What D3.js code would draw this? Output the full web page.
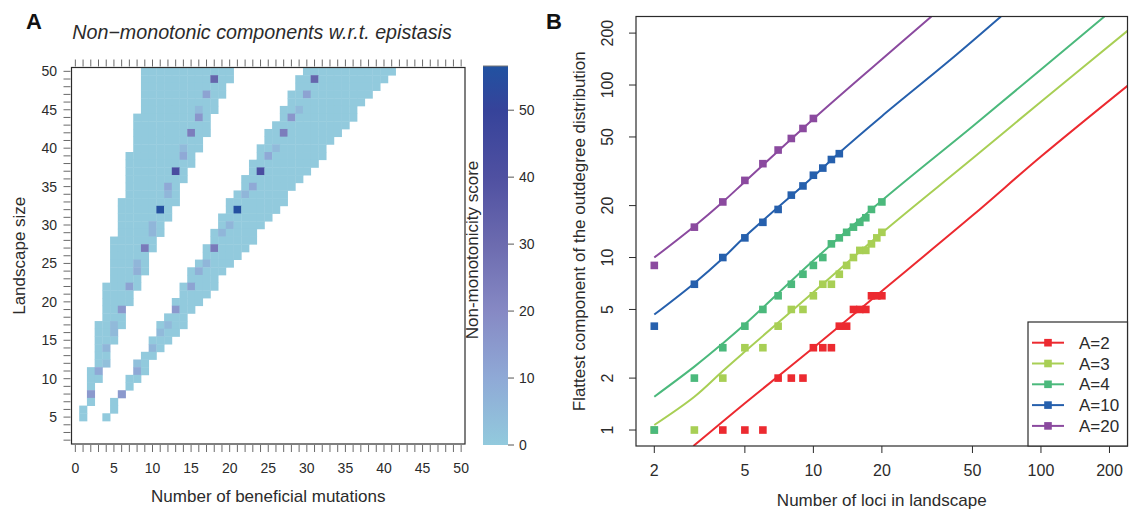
<!DOCTYPE html>
<html>
<head>
<meta charset="utf-8">
<script src="https://cdn.jsdelivr.net/npm/d3@7"></script>
<style>
  body { margin: 0; background: #fff; }
  svg { display: block; font-family: "Liberation Sans", Arial, Helvetica, sans-serif; }
</style>
</head>
<body>
<svg id="fig" width="1129" height="513"></svg>
<script>
// ---------- Panel A: band extents per landscape size ----------
const landscapeSizes = [50,49,48,47,46,45,44,43,42,41,40,39,38,37,36,35,34,33,32,31,30,29,28,27,26,25,24,23,22,21,20,19,18,17,16,15,14,13,12,11,10,9,8,7,6,5];
const lowBandStart  = [9,9,9,9,9,9,8,8,8,8,8,7,7,7,7,7,7,6,6,6,6,6,5,5,5,5,5,5,4,4,4,4,4,3,3,3,3,3,3,2,2,2,2,2,1,1];
const lowBandEnd    = [20,20,19,19,18,18,17,17,17,16,16,15,15,14,14,13,13,13,12,12,11,11,10,10,9,9,9,8,8,7,7,6,6,6,5,5,4,4,4,3,3,2,2,2,1,1];
const highBandStart = [30,29,29,28,28,27,27,26,25,25,24,24,23,23,22,22,21,20,20,19,19,18,18,17,17,16,15,15,14,14,13,13,12,11,11,10,10,9,8,8,7,7,6,5,5,4];
const highBandEnd   = [41,40,39,38,37,36,36,35,34,33,32,32,31,30,29,28,27,27,26,25,24,23,23,22,21,20,19,18,18,17,16,15,14,14,13,12,11,10,9,9,8,7,6,5,5,4];

// cells with a non-zero non-monotonicity score: [landscape size, mutations, score]
const scoredCells = [
  [49,18,32],[47,17,12],[45,16,5],[44,16,16],[42,15,24],[40,14,5],[39,14,10],[37,13,42],
  [35,12,10],[34,12,6],[32,11,56],[30,10,6],[29,10,6],[27,9,25],[25,8,6],[24,8,8],
  [22,7,12],[19,6,15],[17,5,5],[16,5,5],[14,4,6],[12,4,3],[11,3,10],[8,2,15],
  [49,31,32],[47,30,12],[45,29,5],[44,28,16],[42,27,24],[40,26,5],[39,25,10],[37,24,42],
  [35,23,10],[34,22,6],[32,21,56],[30,20,6],[29,19,6],[27,18,25],[25,17,6],[24,16,8],
  [22,15,12],[19,13,15],[17,12,5],[16,11,5],[14,10,6],[12,8,3],[11,8,10],[8,6,15]
];
const scoreStops  = [0, 10, 20, 30, 40, 50, 57];
const scoreColors = ["#92cadd", "#8fa9d6", "#8689c4", "#6c6baf", "#4f50a1", "#36439a", "#2152a1"];
const scoreTicks  = [0, 10, 20, 30, 40, 50];
const mutationTicks = [0,5,10,15,20,25,30,35,40,45,50];
const sizeTicks = [5,10,15,20,25,30,35,40,45,50];

// ---------- Panel B: flattest outdegree component ----------
const lociCounts = [2,3,4,5,6,7,8,9,10,11,12,13,14,15,16,17,18,19,20];
const seriesNames  = ["A=2", "A=3", "A=4", "A=10", "A=20"];
const seriesColors = ["#ec2a30", "#a8cf55", "#4bb97c", "#2660ad", "#8b4a9f"];
const flatA2  = [null,null,1,1,1,2,2,2,3,3,3,4,4,5,5,5,6,6,6];
const flatA3  = [1,1,2,3,3,4,5,5,6,7,7,8,9,10,11,11,12,13,14];
const flatA4  = [1,2,3,4,5,6,7,8,9,10,12,13,14,15,16,17,19,null,21];
const flatA10 = [4,7,10,13,16,19,23,26,30,33,37,40];
const flatA20 = [9,15,21,28,35,42,49,56,64];
// fitted curves: loci count and predicted component size
const fitLociA2  = [2.97, 4, 5, 10, 20, 50, 100, 240];
const fitFlatA2  = [0.808, 1.12, 1.43, 3.0, 6.4, 17.5, 38.5, 99];
const fitLociA3  = [2, 3, 4, 5, 10, 20, 50, 100, 240];
const fitFlatA3  = [1.07, 1.56, 2.2, 2.85, 6.3, 13.9, 37.5, 80, 206];
const fitLociA4  = [2, 3, 4, 5, 10, 20, 50, 100, 190];
const fitFlatA4  = [1.56, 2.33, 3.18, 4.1, 9.6, 21.4, 57.5, 123, 249.6];
const fitLociA10 = [2, 3, 4, 5, 10, 13, 20, 40, 66.7];
const fitFlatA10 = [4.67, 7.1, 9.9, 13.2, 29.5, 40.5, 66, 140, 249.6];
const fitLociA20 = [2, 3, 4, 5, 10, 20, 33];
const fitFlatA20 = [10, 15.2, 21, 27.5, 63.5, 141, 249.6];
const lociTicks = [2, 5, 10, 20, 50, 100, 200];
const flatTicks = [1, 2, 5, 10, 20, 50, 100, 200];

const svg = d3.select("#fig");
const ink = "#2b2b2b";

// ================= Panel A =================
const boxA = { left: 71.5, right: 465, top: 67.5, bottom: 444 };
const xA = d3.scaleLinear().domain([-0.5, 50.5]).range([boxA.left, boxA.right]);
const yA = d3.scaleLinear().domain([1.5, 50.5]).range([boxA.bottom, boxA.top]);
const color = d3.scaleLinear().domain(scoreStops).range(scoreColors).clamp(true);

const scoreOf = new Map(scoredCells.map(d => [d[0] + ":" + d[1], d[2]]));
const cells = [];
landscapeSizes.forEach((L, i) => {
  [[lowBandStart[i], lowBandEnd[i]], [highBandStart[i], highBandEnd[i]]].forEach(([a, b]) => {
    for (let m = a; m <= b; m++) cells.push({ L, m, v: scoreOf.get(L + ":" + m) || 0 });
  });
});

const cw = xA(1) - xA(0), ch = yA(1) - yA(2);
svg.append("g").selectAll("rect").data(cells).join("rect")
  .attr("x", d => xA(d.m - 0.5))
  .attr("y", d => yA(d.L + 0.5))
  .attr("width", cw + 0.4)
  .attr("height", ch + 0.4)
  .attr("fill", d => color(d.v));

svg.append("rect")
  .attr("x", boxA.left).attr("y", boxA.top)
  .attr("width", boxA.right - boxA.left).attr("height", boxA.bottom - boxA.top)
  .attr("fill", "none").attr("stroke", ink).attr("stroke-width", 1.2);

// a tick for every integer on the top, bottom and left sides
const allMut = d3.range(0, 51);
const allSize = d3.range(2, 51);
const tickA = svg.append("g").attr("stroke", "#6a6a6a").attr("stroke-width", 1);
tickA.selectAll(".tt").data(allMut).join("line")
  .attr("x1", d => xA(d)).attr("x2", d => xA(d))
  .attr("y1", boxA.top - 1).attr("y2", boxA.top - 8);
tickA.selectAll(".tb").data(allMut).join("line")
  .attr("x1", d => xA(d)).attr("x2", d => xA(d))
  .attr("y1", boxA.bottom + 1).attr("y2", boxA.bottom + 8);
tickA.selectAll(".tl").data(allSize).join("line")
  .attr("y1", d => yA(d)).attr("y2", d => yA(d))
  .attr("x1", boxA.left - 1).attr("x2", boxA.left - 8);

svg.append("g").selectAll("text").data(mutationTicks).join("text")
  .attr("x", d => xA(d)).attr("y", 473)
  .attr("text-anchor", "middle").attr("font-size", 14).attr("fill", ink)
  .text(d => d);
svg.append("g").selectAll("text").data(sizeTicks).join("text")
  .attr("x", 57).attr("y", d => yA(d) + 5)
  .attr("text-anchor", "end").attr("font-size", 14).attr("fill", ink)
  .text(d => d);

svg.append("text").attr("x", (boxA.left + boxA.right) / 2).attr("y", 502)
  .attr("text-anchor", "middle").attr("font-size", 17).attr("fill", ink)
  .text("Number of beneficial mutations");
svg.append("text").attr("transform", `translate(25,${(boxA.top + boxA.bottom) / 2}) rotate(-90)`)
  .attr("text-anchor", "middle").attr("font-size", 17).attr("fill", ink)
  .text("Landscape size");
svg.append("text").attr("x", 262).attr("y", 39)
  .attr("text-anchor", "middle").attr("font-size", 19.7).attr("font-style", "italic").attr("fill", ink)
  .text("Non\u2212monotonic components w.r.t. epistasis");
svg.append("text").attr("x", 26).attr("y", 29)
  .attr("font-size", 22).attr("font-weight", "bold").attr("fill", "#111")
  .text("A");

// colour bar
const bar = { left: 483, right: 508, top: 66, bottom: 445 };
const yBar = d3.scaleLinear().domain([0, 56.6]).range([bar.bottom, bar.top]);
const grad = svg.append("defs").append("linearGradient")
  .attr("id", "scoreGrad").attr("x1", 0).attr("x2", 0).attr("y1", 1).attr("y2", 0);
grad.selectAll("stop").data(scoreStops).join("stop")
  .attr("offset", d => Math.min(1, d / 56.6))
  .attr("stop-color", (d, i) => scoreColors[i]);
svg.append("rect")
  .attr("x", bar.left).attr("y", bar.top)
  .attr("width", bar.right - bar.left).attr("height", bar.bottom - bar.top)
  .attr("fill", "url(#scoreGrad)");
svg.append("line").attr("x1", bar.left).attr("x2", bar.right)
  .attr("y1", bar.top).attr("y2", bar.top).attr("stroke", "#777").attr("stroke-width", 1);
svg.append("g").selectAll("line").data(scoreTicks).join("line")
  .attr("x1", bar.right).attr("x2", bar.right + 6)
  .attr("y1", d => yBar(d)).attr("y2", d => yBar(d))
  .attr("stroke", "#555");
svg.append("g").selectAll("text").data(scoreTicks).join("text")
  .attr("x", bar.right + 11).attr("y", d => yBar(d) + 5)
  .attr("font-size", 14).attr("fill", ink)
  .text(d => d);
svg.append("text").attr("transform", `translate(478,250) rotate(-90)`)
  .attr("text-anchor", "middle").attr("font-size", 17).attr("fill", ink)
  .text("Non-monotonicity score");

// ================= Panel B =================
const boxB = { left: 636, right: 1127.5, top: 16.5, bottom: 446 };
const xB = d3.scaleLog().domain([1.662, 240]).range([boxB.left, boxB.right]);
const yB = d3.scaleLog().domain([0.808, 249.6]).range([boxB.bottom, boxB.top]);

svg.append("defs").append("clipPath").attr("id", "clipB")
  .append("rect").attr("x", boxB.left).attr("y", boxB.top)
  .attr("width", boxB.right - boxB.left).attr("height", boxB.bottom - boxB.top);

const fits = [
  [fitLociA2, fitFlatA2], [fitLociA3, fitFlatA3], [fitLociA4, fitFlatA4],
  [fitLociA10, fitFlatA10], [fitLociA20, fitFlatA20]
];
const observed = [flatA2, flatA3, flatA4, flatA10, flatA20];

const line = d3.line().x(d => xB(d[0])).y(d => yB(d[1])).curve(d3.curveCatmullRom.alpha(0.5));
const gB = svg.append("g").attr("clip-path", "url(#clipB)");
fits.forEach(([xs, ys], i) => {
  gB.append("path").datum(xs.map((x, k) => [x, ys[k]]))
    .attr("d", line).attr("fill", "none")
    .attr("stroke", seriesColors[i]).attr("stroke-width", 2);
});
const sq = 7.6;
observed.forEach((vals, i) => {
  const pts = vals.map((v, k) => [lociCounts[k], v]).filter(d => d[1] != null);
  gB.append("g").selectAll("rect").data(pts).join("rect")
    .attr("x", d => xB(d[0]) - sq / 2).attr("y", d => yB(d[1]) - sq / 2)
    .attr("width", sq).attr("height", sq)
    .attr("fill", seriesColors[i]);
});

svg.append("rect")
  .attr("x", boxB.left).attr("y", boxB.top)
  .attr("width", boxB.right - boxB.left).attr("height", boxB.bottom - boxB.top)
  .attr("fill", "none").attr("stroke", ink).attr("stroke-width", 1.2);

svg.append("g").selectAll("line").data(lociTicks).join("line")
  .attr("x1", d => xB(d)).attr("x2", d => xB(d))
  .attr("y1", boxB.bottom).attr("y2", boxB.bottom + 7)
  .attr("stroke", ink);
svg.append("g").selectAll("text").data(lociTicks).join("text")
  .attr("x", d => xB(d)).attr("y", 476)
  .attr("text-anchor", "middle").attr("font-size", 16).attr("fill", ink)
  .text(d => d);
svg.append("g").selectAll("line").data(flatTicks).join("line")
  .attr("y1", d => yB(d)).attr("y2", d => yB(d))
  .attr("x1", boxB.left).attr("x2", boxB.left - 7)
  .attr("stroke", ink);
svg.append("g").selectAll("text").data(flatTicks).join("text")
  .attr("transform", d => `translate(613,${yB(d)}) rotate(-90)`)
  .attr("text-anchor", "middle").attr("font-size", 16).attr("fill", ink)
  .text(d => d);

svg.append("text").attr("x", (boxB.left + boxB.right) / 2).attr("y", 506)
  .attr("text-anchor", "middle").attr("font-size", 17).attr("fill", ink)
  .text("Number of loci in landscape");
svg.append("text").attr("transform", `translate(585,${(boxB.top + boxB.bottom) / 2}) rotate(-90)`)
  .attr("text-anchor", "middle").attr("font-size", 17).attr("fill", ink)
  .text("Flattest component of the outdegree distribution");
svg.append("text").attr("x", 546).attr("y", 29)
  .attr("font-size", 22).attr("font-weight", "bold").attr("fill", "#111")
  .text("B");

// legend
const leg = svg.append("g");
leg.append("rect").attr("x", 1028).attr("y", 322)
  .attr("width", boxB.right - 1028).attr("height", boxB.bottom - 322)
  .attr("fill", "#fff").attr("stroke", ink).attr("stroke-width", 1.2);
const rows = leg.selectAll("g").data(seriesNames).join("g")
  .attr("transform", (d, i) => `translate(0,${342.7 + i * 20.8})`);
rows.append("line").attr("x1", 1032).attr("x2", 1064).attr("y1", 0).attr("y2", 0)
  .attr("stroke", (d, i) => seriesColors[i]).attr("stroke-width", 2);
rows.append("rect").attr("x", 1048 - sq / 2).attr("y", -sq / 2)
  .attr("width", sq).attr("height", sq).attr("fill", (d, i) => seriesColors[i]);
rows.append("text").attr("x", 1079).attr("y", 6)
  .attr("font-size", 17).attr("fill", ink).text(d => d);
</script>
</body>
</html>
